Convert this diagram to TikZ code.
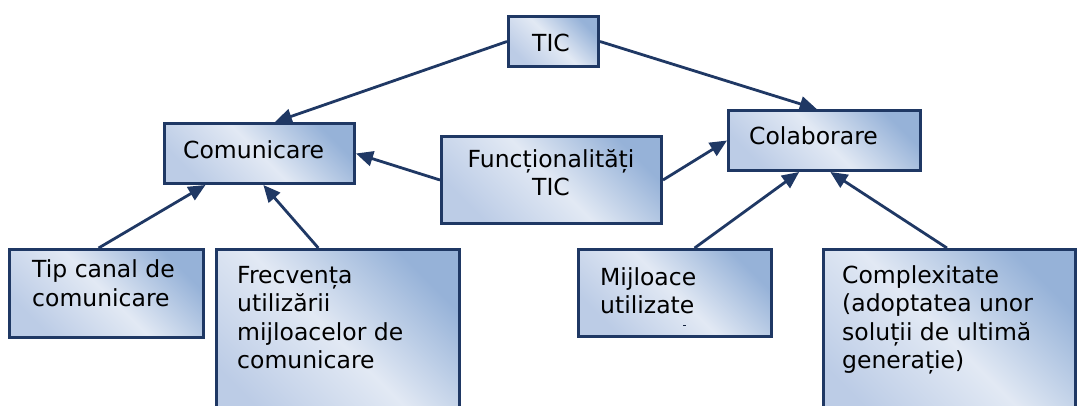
\documentclass[tikz,border=0pt]{standalone}
\usepackage{fontspec}
\setmainfont{DejaVu Sans}
\usetikzlibrary{arrows.meta,calc}
\definecolor{edgeblue}{RGB}{31,56,100}
\definecolor{shadedark}{RGB}{150,178,216}
\definecolor{shadelight}{RGB}{226,233,244}
\definecolor{shademid}{RGB}{188,204,230}
\tikzset{
  box/.style={draw=edgeblue, line width=3pt, top color=shadedark,
    bottom color=shademid, middle color=shadelight, shading angle=-45,
    inner sep=0pt, anchor=north west},
  txt/.style={font=\fontsize{23.5}{28.5}\selectfont, inner sep=0pt},
  link/.style={draw=edgeblue, line width=2.8pt, -{Triangle[length=17pt,width=15pt]}}
}
\begin{document}
\begin{tikzpicture}[x=1pt,y=-1pt]
\useasboundingbox (0,0) rectangle (1078,405);
\clip (0,0) rectangle (1078,405);
\fill[white] (0,0) rectangle (1078,405);

% boxes
\node[box, minimum width=90pt,  minimum height=50pt] (tic)    at (507,15)  {};
\node[box, minimum width=190pt, minimum height=60pt] (comun)  at (163,122) {};
\node[box, minimum width=220pt, minimum height=87pt] (func)   at (440,135) {};
\node[box, minimum width=192pt, minimum height=60pt] (colab)  at (727,109) {};
\node[box, minimum width=194pt, minimum height=88pt] (tip)    at (8,248)   {};
\node[box, minimum width=243pt, minimum height=180pt] (frecv) at (215,248) {};
\node[box, minimum width=193pt, minimum height=87pt] (mijl)   at (577,248) {};
\node[box, minimum width=252pt, minimum height=180pt] (compl) at (822,248) {};

% labels (multi-line labels are placed by the baseline of their last line)
\node[txt, anchor=base] (tic-t) at (551,51) {TIC};
\node[txt, anchor=base west] (comun-t) at (183,158) {Comunicare};
\node[txt, anchor=base west] (colab-t) at (749,144) {Colaborare};
\node[txt, anchor=base] (func-t1) at (551,167) {Funcționalități};
\node[txt, anchor=base] (func-t2) at (551,195) {TIC};
\node[txt, anchor=base west, align=left] (tip-t) at (32,306) {Tip canal de\\comunicare};
\node[txt, anchor=base west, align=left] (frecv-t) at (237,368.5) {Frecvența\\utilizării\\mijloacelor de\\comunicare};
\node[txt, anchor=base west, align=left] (mijl-t) at (600,313.5) {Mijloace\\utilizate};
\node[txt, anchor=base west, align=left] (compl-t) at (842,368.5) {Complexitate\\(adoptatea unor\\soluții de ultimă\\generație)};
\coordinate (tick) at (683,325);
\draw[edgeblue!60!black, line width=0.8pt] (tick) -- ++(3,0);

% connectors
\draw[link] (tic.west) -- ($(comun.north west)!0.58!(comun.north east)$);
\draw[link] (tic.east) -- ($(colab.north west)!0.46!(colab.north east)$);
\draw[link] (func.west) -- (comun.east);
\draw[link] (func.east) -- (colab.west);
\draw[link] ($(tip.north west)!0.46!(tip.north east)$) -- ($(comun.south west)!0.22!(comun.south east)$);
\draw[link] ($(frecv.north west)!0.42!(frecv.north east)$) -- ($(comun.south west)!0.52!(comun.south east)$);
\draw[link] ($(mijl.north west)!0.6!(mijl.north east)$) -- ($(colab.south west)!0.37!(colab.south east)$);
\draw[link] ($(compl.north west)!0.49!(compl.north east)$) -- ($(colab.south west)!0.53!(colab.south east)$);
\end{tikzpicture}
\end{document}
